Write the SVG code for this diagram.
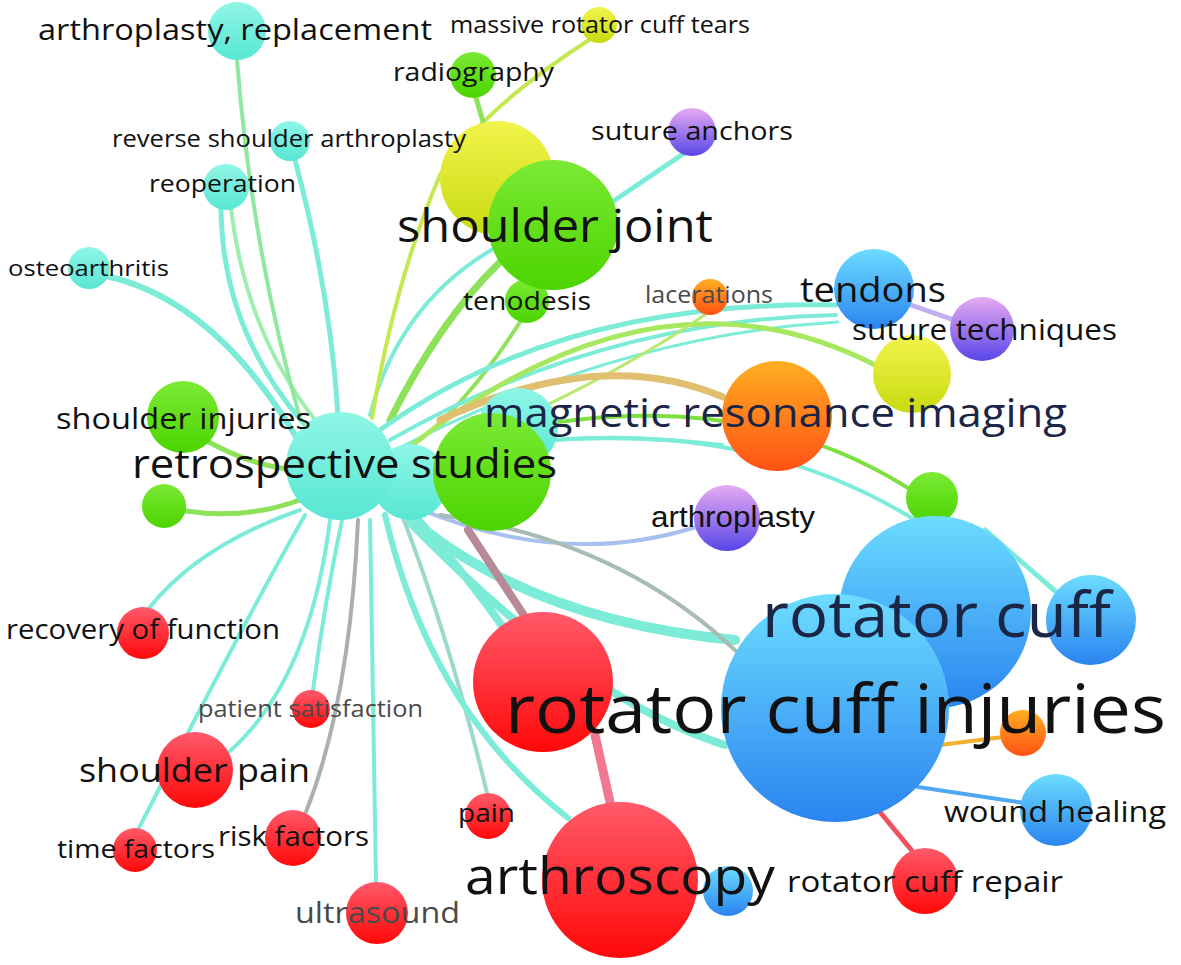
<svg xmlns="http://www.w3.org/2000/svg" width="1181" height="965" viewBox="0 0 1181 965">
<defs>
<linearGradient id="gC" x1="0" y1="0" x2="0" y2="1"><stop offset="0" stop-color="#8ff6e6"/><stop offset="1" stop-color="#58e6d4"/></linearGradient>
<linearGradient id="gG" x1="0" y1="0" x2="0" y2="1"><stop offset="0" stop-color="#7aea34"/><stop offset="1" stop-color="#4cd400"/></linearGradient>
<linearGradient id="gY" x1="0" y1="0" x2="0" y2="1"><stop offset="0" stop-color="#f2f44c"/><stop offset="1" stop-color="#c8da10"/></linearGradient>
<linearGradient id="gR" x1="0" y1="0" x2="0" y2="1"><stop offset="0" stop-color="#ff5a6a"/><stop offset="1" stop-color="#ff0808"/></linearGradient>
<linearGradient id="gB" x1="0" y1="0" x2="0" y2="1"><stop offset="0" stop-color="#6cdcff"/><stop offset="1" stop-color="#2a84f0"/></linearGradient>
<linearGradient id="gO" x1="0" y1="0" x2="0" y2="1"><stop offset="0" stop-color="#ffae22"/><stop offset="1" stop-color="#ff5214"/></linearGradient>
<linearGradient id="gP" x1="0" y1="0" x2="0" y2="1"><stop offset="0" stop-color="#e8aaf2"/><stop offset="1" stop-color="#5846e8"/></linearGradient>
</defs>
<style>
.e{fill:none;stroke-linecap:round}
.ec{stroke:#7cecd9}
.eg{stroke:#8ee25a}
.ey{stroke:#c4e850}
.t{font-family:'Open Sans','Noto Sans','DejaVu Sans',sans-serif;fill:#111}
.ta{font-family:'Liberation Sans',Arial,sans-serif;fill:#111}
.gray{fill:#4a4a4a}
.navy{fill:#1b2546}
</style>
<rect width="1181" height="965" fill="#ffffff"/>
<g id="connectors">
<path class="e ec" stroke-width="5" d="M295,160 Q330,290 338,415"/>
<path class="e ec" stroke-width="5" d="M221,208 Q222,330 305,425"/>
<path class="e" stroke="#9eeeb0" stroke-width="4" d="M231,208 Q245,330 315,420"/>
<path class="e ec" stroke-width="6" d="M106,276 Q215,300 298,440"/>
<path class="e" stroke="#90e8a0" stroke-width="4" d="M237,60 Q252,250 300,418"/>
<path class="e ec" stroke-width="4" d="M370,415 Q400,300 500,245"/>
<path class="e eg" stroke-width="7" d="M390,420 Q440,320 500,262"/>
<path class="e ey" stroke-width="4" d="M592,38 Q480,110 440,175 Q395,280 372,418"/>
<path class="e eg" stroke-width="5" d="M476,98 L484,125"/>
<path class="e eg" stroke-width="4" d="M520,322 Q470,400 420,440"/>
<path class="e ec" stroke-width="5" d="M380,430 Q560,300 836,305"/>
<path class="e ec" stroke-width="4" d="M390,440 Q600,320 836,315"/>
<path class="e ec" stroke-width="3" d="M395,450 Q620,335 838,322"/>
<path class="e" stroke="#a8e860" stroke-width="5" d="M400,455 Q650,250 875,365"/>
<path class="e" stroke="#b8e870" stroke-width="3" d="M706,314 Q610,380 470,440"/>
<path class="e" stroke="#e0c070" stroke-width="7" d="M723,397 Q600,345 440,420"/>
<path class="e" stroke="#7ee040" stroke-width="4" d="M908,488 Q720,370 450,445"/>
<path class="e ec" stroke-width="4" d="M915,520 Q720,400 450,455"/>
<path class="e ec" stroke-width="4" d="M722,445 Q600,430 470,448"/>
<path class="e" stroke="#a8c0f0" stroke-width="4" d="M696,527 Q560,570 410,505"/>
<path class="e ec" stroke-width="10" d="M395,505 Q520,620 735,640"/>
<path class="e ec" stroke-width="8" d="M400,512 Q580,700 725,745"/>
<path class="e ec" stroke-width="8" d="M410,510 Q470,580 505,630"/>
<path class="e" stroke="#a8bcb4" stroke-width="4" d="M440,515 Q620,540 737,652"/>
<path class="e" stroke="#b88a98" stroke-width="8" d="M468,530 L525,617"/>
<path class="e eg" stroke-width="5" d="M205,440 Q255,468 300,470"/>
<path class="e eg" stroke-width="5" d="M186,511 Q245,520 300,500"/>
<path class="e ec" stroke-width="4" d="M300,510 Q200,545 150,607"/>
<path class="e ec" stroke-width="4" d="M305,515 Q245,620 138,830"/>
<path class="e ec" stroke-width="4" d="M229,752 Q310,680 330,520"/>
<path class="e ec" stroke-width="4" d="M313,690 Q325,600 342,520"/>
<path class="e" stroke="#a8b0b0" stroke-width="4" d="M306,812 Q350,700 358,520"/>
<path class="e ec" stroke-width="4" d="M370,520 L376,882"/>
<path class="e" stroke="#9cd8cc" stroke-width="4" d="M402,515 Q450,640 487,793"/>
<path class="e ec" stroke-width="6" d="M385,515 Q430,710 568,818"/>
<path class="e ec" stroke-width="5" d="M612,202 L686,152"/>
<path class="e" stroke="#c0b0f0" stroke-width="5" d="M905,303 L960,322"/>
<path class="e ec" stroke-width="5" d="M985,530 L1062,597"/>
<path class="e" stroke="#f0b030" stroke-width="4" d="M940,745 L1003,737"/>
<path class="e" stroke="#50a8f0" stroke-width="4" d="M918,787 L1025,803"/>
<path class="e" stroke="#f05060" stroke-width="5" d="M880,812 L913,852"/>
<path class="e" stroke="#f07890" stroke-width="9" d="M595,735 L610,802"/>
</g>
<g id="n-massive"><circle cx="599" cy="25" r="18" fill="url(#gY)"/></g>
<g id="n-radiography"><circle cx="473" cy="75" r="23" fill="url(#gG)"/></g>
<g id="n-arthrorepl"><circle cx="237" cy="31" r="29" fill="url(#gC)"/></g>
<g id="n-reverse"><circle cx="290" cy="141" r="20" fill="url(#gC)"/></g>
<g id="n-reoperation"><circle cx="226" cy="187" r="23" fill="url(#gC)"/></g>
<g id="n-osteo"><circle cx="89" cy="268" r="21" fill="url(#gC)"/></g>
<g id="n-yellowbig"><circle cx="497" cy="178" r="57" fill="url(#gY)"/></g>
<g id="n-tenodesis"><circle cx="527" cy="301" r="22" fill="url(#gG)"/></g>
<g id="n-shoulderjoint"><circle cx="553" cy="225" r="65" fill="url(#gG)"/></g>
<g id="n-anchors"><circle cx="692" cy="132" r="24" fill="url(#gP)"/></g>
<g id="n-lacerations"><circle cx="710" cy="297" r="18" fill="url(#gO)"/></g>
<g id="n-tendons"><circle cx="874" cy="289" r="40" fill="url(#gB)"/></g>
<g id="n-suturetech"><circle cx="982" cy="329" r="32" fill="url(#gP)"/></g>
<g id="n-yellow2"><circle cx="912" cy="374" r="39" fill="url(#gY)"/></g>
<g id="n-mri"><circle cx="777" cy="416" r="55" fill="url(#gO)"/></g>
<g id="n-arthroplasty"><circle cx="727" cy="518" r="33" fill="url(#gP)"/></g>
<g id="n-shinj"><circle cx="183" cy="417" r="36" fill="url(#gG)"/></g>
<g id="n-green-sm"><circle cx="164" cy="506" r="22" fill="url(#gG)"/></g>
<g id="n-cyan3"><circle cx="518" cy="428" r="40" fill="url(#gC)"/></g>
<g id="n-cyan2"><circle cx="410" cy="482" r="38" fill="url(#gC)"/></g>
<g id="n-retro"><circle cx="340" cy="466" r="54" fill="url(#gC)"/></g>
<g id="n-greenbig"><circle cx="492" cy="472" r="59" fill="url(#gG)"/></g>
<g id="n-green932"><circle cx="932" cy="498" r="26" fill="url(#gG)"/></g>
<g id="n-rc"><circle cx="935" cy="612" r="96" fill="url(#gB)"/></g>
<g id="n-blueright"><circle cx="1091" cy="620" r="45" fill="url(#gB)"/></g>
<g id="n-rci"><circle cx="835" cy="708" r="114" fill="url(#gB)"/></g>
<g id="n-orange-sm"><circle cx="1023" cy="733" r="23" fill="url(#gO)"/></g>
<g id="n-wound"><circle cx="1056" cy="810" r="36" fill="url(#gB)"/></g>
<g id="n-rcrepair"><circle cx="925" cy="881" r="33" fill="url(#gR)"/></g>
<g id="n-blue-sm"><circle cx="728" cy="891" r="25" fill="url(#gB)"/></g>
<g id="n-arthroscopy"><circle cx="620" cy="880" r="78" fill="url(#gR)"/></g>
<g id="n-bigred"><circle cx="543" cy="682" r="70" fill="url(#gR)"/></g>
<g id="n-recovery"><circle cx="143" cy="633" r="26" fill="url(#gR)"/></g>
<g id="n-patsat"><circle cx="311" cy="709" r="19" fill="url(#gR)"/></g>
<g id="n-shpain"><circle cx="195" cy="770" r="38" fill="url(#gR)"/></g>
<g id="n-time"><circle cx="135" cy="850" r="22" fill="url(#gR)"/></g>
<g id="n-risk"><circle cx="293" cy="838" r="28" fill="url(#gR)"/></g>
<g id="n-pain"><circle cx="488" cy="816" r="23" fill="url(#gR)"/></g>
<g id="n-ultrasound"><circle cx="377" cy="913" r="31" fill="url(#gR)"/></g>
<g id="labels">
<text class="t" x="38" y="40" font-size="30" textLength="394" lengthAdjust="spacingAndGlyphs">arthroplasty, replacement</text>
<text class="t" x="450" y="33" font-size="23" textLength="300" lengthAdjust="spacingAndGlyphs">massive rotator cuff tears</text>
<text class="t" x="393" y="81" font-size="26" textLength="161" lengthAdjust="spacingAndGlyphs">radiography</text>
<text class="t" x="112" y="147" font-size="23" textLength="354" lengthAdjust="spacingAndGlyphs">reverse shoulder arthroplasty</text>
<text class="t" x="149" y="192" font-size="24" textLength="147" lengthAdjust="spacingAndGlyphs">reoperation</text>
<text class="t" x="8" y="276" font-size="22" textLength="161" lengthAdjust="spacingAndGlyphs">osteoarthritis</text>
<text class="t" x="397" y="242" font-size="45" textLength="316" lengthAdjust="spacingAndGlyphs">shoulder joint</text>
<text class="t" x="591" y="140" font-size="26" textLength="202" lengthAdjust="spacingAndGlyphs">suture anchors</text>
<text class="t" x="463" y="310" font-size="26" textLength="128" lengthAdjust="spacingAndGlyphs">tenodesis</text>
<text class="t gray" x="645" y="303" font-size="23" textLength="128" lengthAdjust="spacingAndGlyphs">lacerations</text>
<text class="t" x="800" y="302" font-size="35" textLength="146" lengthAdjust="spacingAndGlyphs">tendons</text>
<text class="t" x="852" y="340" font-size="29" textLength="265" lengthAdjust="spacingAndGlyphs">suture techniques</text>
<text class="t navy" x="484" y="427" font-size="40" textLength="583" lengthAdjust="spacingAndGlyphs">magnetic resonance imaging</text>
<text class="t" x="56" y="429" font-size="29" textLength="255" lengthAdjust="spacingAndGlyphs" fill="#333">shoulder injuries</text>
<text class="t" x="132" y="478" font-size="40" textLength="425" lengthAdjust="spacingAndGlyphs">retrospective studies</text>
<text class="ta" x="651" y="527" font-size="30" textLength="164" lengthAdjust="spacingAndGlyphs">arthroplasty</text>
<text class="t navy" x="762" y="637" font-size="62" textLength="349" lengthAdjust="spacingAndGlyphs">rotator cuff</text>
<text class="t" x="505" y="733" font-size="68" textLength="661" lengthAdjust="spacingAndGlyphs">rotator cuff injuries</text>
<text class="t" x="6" y="639" font-size="27" textLength="274" lengthAdjust="spacingAndGlyphs">recovery of function</text>
<text class="t gray" x="198" y="717" font-size="23" textLength="225" lengthAdjust="spacingAndGlyphs">patient satisfaction</text>
<text class="t" x="79" y="782" font-size="33" textLength="231" lengthAdjust="spacingAndGlyphs">shoulder pain</text>
<text class="t" x="57" y="858" font-size="26" textLength="158" lengthAdjust="spacingAndGlyphs">time factors</text>
<text class="t" x="218" y="846" font-size="27" textLength="151" lengthAdjust="spacingAndGlyphs">risk factors</text>
<text class="t gray" x="295" y="923" font-size="29" textLength="165" lengthAdjust="spacingAndGlyphs">ultrasound</text>
<text class="t" x="458" y="822" font-size="26" textLength="57" lengthAdjust="spacingAndGlyphs">pain</text>
<text class="t" x="465" y="894" font-size="52" textLength="310" lengthAdjust="spacingAndGlyphs">arthroscopy</text>
<text class="t" x="787" y="892" font-size="30" textLength="276" lengthAdjust="spacingAndGlyphs">rotator cuff repair</text>
<text class="t" x="944" y="822" font-size="30" textLength="222" lengthAdjust="spacingAndGlyphs">wound healing</text>
</g>
</svg>
